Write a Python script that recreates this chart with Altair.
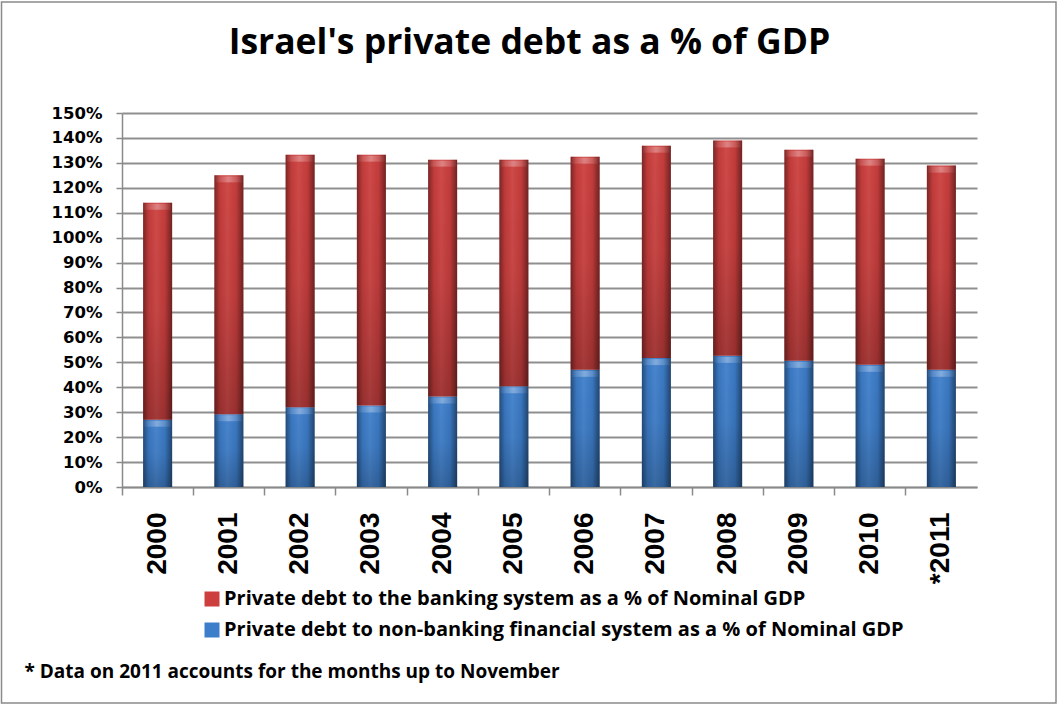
import altair as alt
import pandas as pd

# ---- data ----
years = ["2000", "2001", "2002", "2003", "2004", "2005", "2006", "2007", "2008", "2009", "2010", "*2011"]
nonbank = [0.270, 0.292, 0.320, 0.327, 0.363, 0.404, 0.470, 0.517, 0.526, 0.506, 0.490, 0.470]
bank = [0.870, 0.958, 1.013, 1.006, 0.950, 0.909, 0.855, 0.852, 0.864, 0.847, 0.827, 0.819]
series_names = [
    "Private debt to the banking system as a % of Nominal GDP",
    "Private debt to non-banking financial system as a % of Nominal GDP",
]
series_colors = ["#CC3F3E", "#3D7ECB"]
y_ticks = [i / 10 for i in range(16)]
title_text = "Israel's private debt as a % of GDP"
footnote = "* Data on 2011 accounts for the months up to November"

# ---- table (manual stacking: non-banking at the bottom) ----
rows = []
for yr, nb, b in zip(years, nonbank, bank):
    rows.append({"year": yr, "series": series_names[1], "y0": 0.0, "y1": nb})
    rows.append({"year": yr, "series": series_names[0], "y0": nb, "y1": nb + b})
df = pd.DataFrame(rows)

W, H = 855, 374
PAD_L, PAD_T = 122, 113

x_enc = alt.X(
    "year:N",
    sort=years,
    scale=alt.Scale(padding=0, paddingInner=0, paddingOuter=0),
    axis=alt.Axis(
        title=footnote,
        titleX=24 - PAD_L,
        titleY=190,
        titleAlign="left",
        titleAnchor="start",
        titleBaseline="alphabetic",
        titleAngle=0,
        titleFont="Open Sans",
        titleFontSize=19,
        titleFontWeight="bold",
        titleColor="#000000",
        labelAngle=270,
        labelFont="Liberation Sans",
        labelFontSize=28,
        labelFontWeight="bold",
        labelColor="#000000",
        labelPadding=17,
        tickSize=8,
        tickColor="#8a8a8a",
        tickWidth=1.5,
        bandPosition=0,
        domainColor="#8a8a8a",
        domainWidth=1.5,
        grid=False,
        labelOverlap=False,
        labelFlush=False,
    ),
)
y_scale = alt.Scale(domain=[0, 1.5], nice=False, zero=True)
y_enc = alt.Y(
    "y1:Q",
    scale=y_scale,
    axis=alt.Axis(
        title=None,
        values=y_ticks,
        format=".0%",
        labelFont="DejaVu Sans",
        labelFontSize=16.5,
        labelFontWeight="bold",
        labelColor="#000000",
        labelPadding=14,
        tickSize=6,
        tickColor="#8a8a8a",
        tickWidth=1.5,
        domainColor="#8a8a8a",
        domainWidth=1.5,
        gridColor="#8f8f8f",
        gridWidth=2,
        labelFlush=False,
        labelOverlap=False,
    ),
)

base = alt.Chart(df)

bars = base.mark_bar(width=29).encode(
    x=x_enc,
    y=y_enc,
    y2="y0:Q",
    color=alt.Color(
        "series:N",
        scale=alt.Scale(domain=series_names, range=series_colors),
        legend=alt.Legend(
            title=None,
            orient="none",
            legendX=80,
            legendY=476,
            direction="vertical",
            symbolType="square",
            symbolSize=225,
            symbolStrokeWidth=0,
            labelFont="Open Sans",
            labelFontSize=20,
            labelFontWeight="bold",
            labelColor="#000000",
            labelOffset=2,
            labelLimit=0,
            rowPadding=11,
        ),
    ),
)

side_shade = alt.Gradient(
    gradient="linear", x1=0, x2=1, y1=0, y2=0,
    stops=[
        alt.GradientStop(color="rgba(0,0,0,0.40)", offset=0),
        alt.GradientStop(color="rgba(0,0,0,0.05)", offset=0.2),
        alt.GradientStop(color="rgba(255,255,255,0.06)", offset=0.45),
        alt.GradientStop(color="rgba(0,0,0,0.05)", offset=0.75),
        alt.GradientStop(color="rgba(0,0,0,0.45)", offset=1),
    ],
)
vert_shade = alt.Gradient(
    gradient="linear", x1=0, x2=0, y1=0, y2=1,
    stops=[
        alt.GradientStop(color="rgba(0,0,0,0)", offset=0),
        alt.GradientStop(color="rgba(0,0,0,0.05)", offset=0.5),
        alt.GradientStop(color="rgba(0,0,0,0.22)", offset=1),
    ],
)
top_light = alt.Gradient(
    gradient="linear", x1=0, x2=1, y1=0, y2=0,
    stops=[
        alt.GradientStop(color="rgba(255,255,255,0.05)", offset=0),
        alt.GradientStop(color="rgba(255,255,255,0.45)", offset=0.5),
        alt.GradientStop(color="rgba(255,255,255,0.05)", offset=1),
    ],
)

shade1 = base.mark_bar(width=29, color=side_shade).encode(x=x_enc, y=y_enc, y2="y0:Q")
shade2 = base.mark_bar(width=29, color=vert_shade).encode(x=x_enc, y=y_enc, y2="y0:Q")
tops = base.mark_tick(size=27, thickness=6, yOffset=4, color=top_light).encode(x=x_enc, y=y_enc)

frame = alt.Chart(alt.Data(values=[{}])).mark_rect(
    fillOpacity=0, stroke="#8a8a8a", strokeWidth=1.5
).encode(
    x=alt.value(1.5 - PAD_L),
    x2=alt.value(1056 - PAD_L),
    y=alt.value(2 - PAD_T),
    y2=alt.value(703 - PAD_T),
)

chart = (
    alt.layer(bars, shade1, shade2, tops, frame)
    .properties(
        width=W,
        height=H,
        title=alt.TitleParams(
            title_text,
            font="Open Sans",
            fontSize=35.5,
            fontWeight="bold",
            color="#000000",
            anchor="middle",
            frame="group",
            dx=-20,
            baseline="alphabetic",
            offset=-88,
        ),
        autosize=alt.AutoSizeParams(type="none"),
        padding={"left": PAD_L, "top": PAD_T, "right": 1058 - PAD_L - W, "bottom": 704 - PAD_T - H},
        background="#ffffff",
    )
    .configure_view(stroke=None)
)

chart.save("out.html", embed_options={"renderer": "svg", "actions": False})
